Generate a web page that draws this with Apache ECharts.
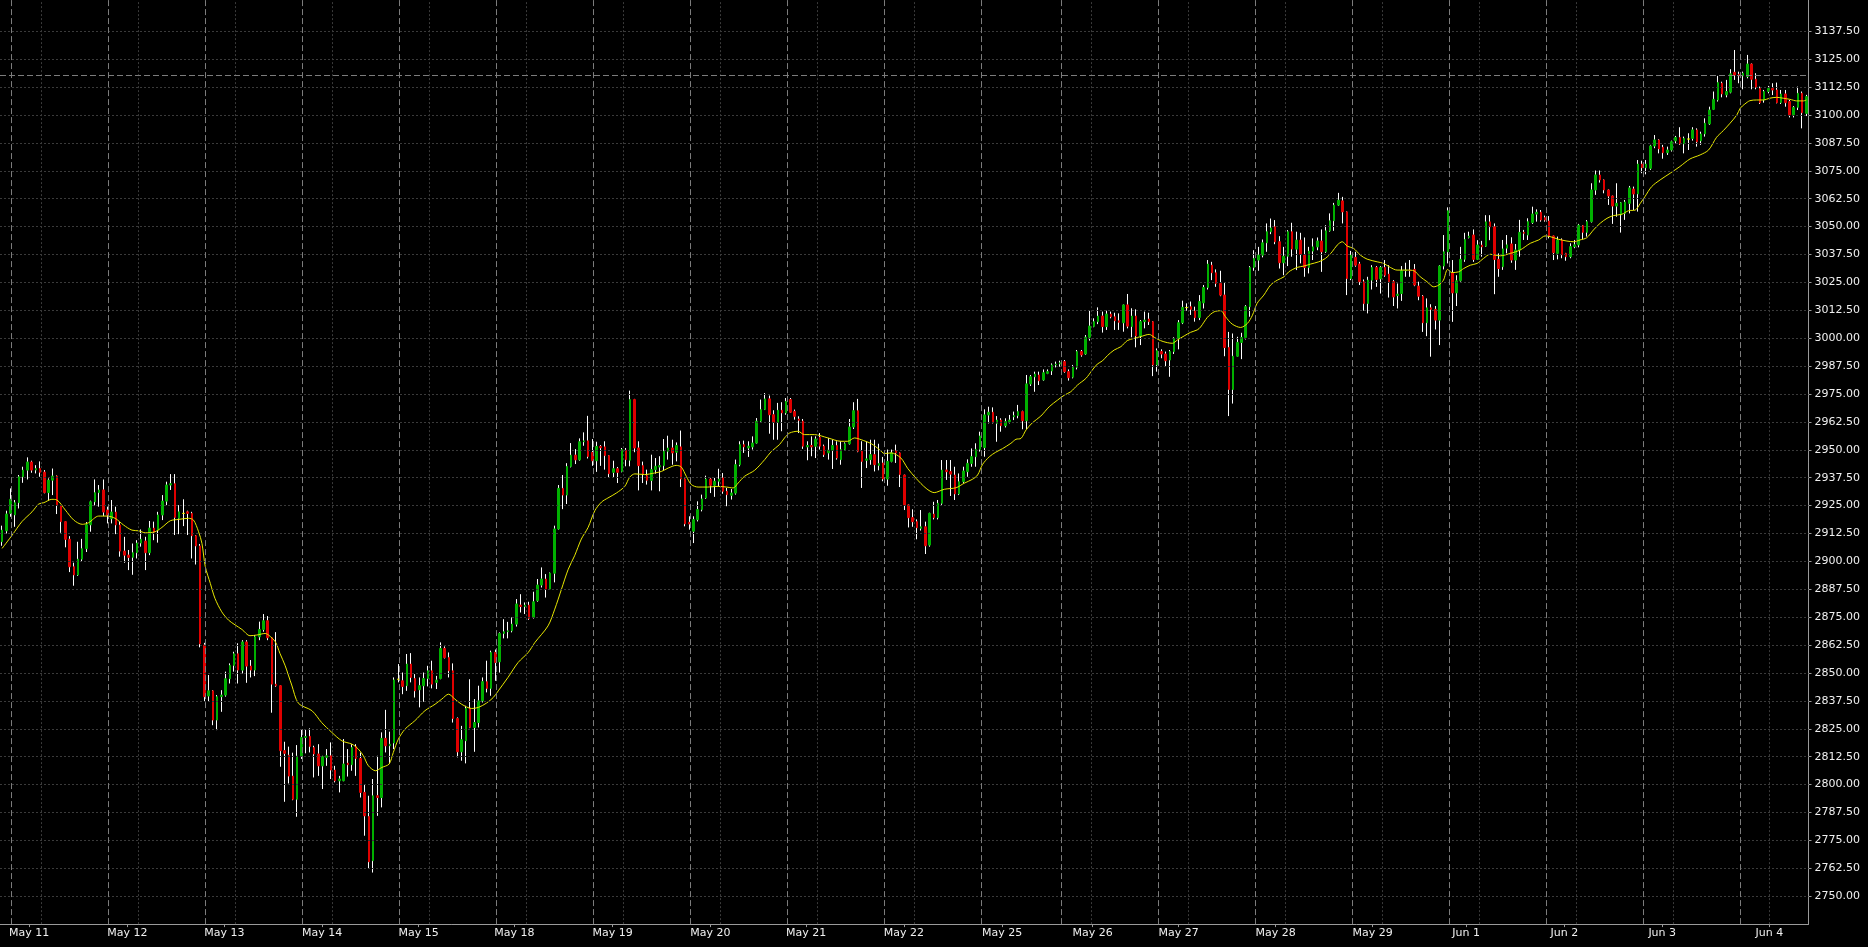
<!DOCTYPE html>
<html><head><meta charset="utf-8">
<script src="https://cdn.jsdelivr.net/npm/echarts@6/dist/echarts.min.js"></script>
<style>html,body{margin:0;padding:0;background:#000;overflow:hidden}#c{width:1868px;height:947px;}</style>
</head><body><div id="c"></div>
<script>
// ---- hourly OHLC (429 bars) ----
const opens = [
2908.8,2913.7,2921.5,2920.8,2926.3,2937.9,2940.9,2944.5,2940.9,2941.6,
2940.0,2930.8,2936.4,2938.2,2924.8,2917.8,2909.9,2897.6,2893.9,2901.0,
2905.7,2916.4,2926.7,2930.8,2932.0,2923.0,2919.1,2922.1,2916.3,2904.6,
2902.8,2901.8,2903.9,2908.2,2909.1,2903.9,2914.9,2914.0,2920.8,2927.0,
2934.2,2934.8,2919.3,2921.5,2922.2,2921.5,2911.5,2906.9,2862.5,2839.7,
2842.0,2828.9,2839.4,2840.1,2847.4,2853.4,2858.6,2851.3,2863.9,2853.1,
2851.3,2866.2,2869.5,2873.4,2865.8,2845.0,2844.3,2815.2,2813.2,2803.8,
2793.4,2812.8,2821.1,2821.6,2816.6,2813.7,2808.4,2812.2,2812.9,2806.5,
2801.7,2801.7,2809.6,2808.9,2817.1,2811.7,2796.5,2785.7,2765.9,2795.0,
2794.2,2820.7,2817.4,2818.6,2847.2,2846.5,2844.3,2854.0,2847.5,2842.5,
2844.3,2847.5,2851.0,2845.8,2847.5,2861.0,2856.9,2851.0,2829.6,2814.7,
2819.6,2834.1,2825.6,2827.8,2837.5,2846.1,2843.1,2859.2,2855.0,2867.7,
2868.5,2868.9,2871.9,2880.4,2879.8,2880.4,2874.9,2882.4,2889.4,2892.1,
2887.6,2894.7,2914.5,2932.7,2929.7,2942.5,2947.6,2945.5,2953.6,2954.0,
2948.8,2945.1,2951.5,2951.3,2947.4,2939.9,2941.5,2940.3,2949.8,2945.3,
2972.5,2950.8,2942.9,2938.4,2936.3,2941.1,2942.3,2942.9,2949.3,2950.8,
2948.9,2951.3,2936.9,2917.5,2913.5,2918.7,2923.2,2928.4,2936.9,2934.1,
2935.9,2937.4,2931.4,2929.6,2930.6,2943.3,2952.3,2950.8,2951.3,2953.0,
2962.8,2968.0,2972.8,2965.7,2962.3,2967.7,2966.5,2972.5,2967.2,2963.8,
2962.8,2951.3,2951.9,2951.6,2955.6,2951.6,2948.6,2949.8,2951.9,2945.6,
2950.1,2952.7,2960.2,2967.5,2949.3,2945.3,2945.6,2947.8,2943.0,2944.1,
2936.9,2944.8,2949.6,2948.6,2938.7,2925.3,2919.6,2917.8,2914.8,2915.5,
2907.3,2921.2,2919.6,2926.0,2940.9,2940.2,2938.7,2930.2,2935.7,2940.2,
2943.9,2946.9,2950.2,2951.0,2965.6,2966.8,2961.8,2963.3,2960.8,2962.6,
2964.8,2965.3,2967.1,2963.0,2979.5,2982.7,2983.5,2981.3,2984.2,2985.3,
2988.0,2988.4,2989.5,2985.0,2982.5,2986.9,2994.0,2992.9,3000.4,3005.2,
3007.4,3009.9,3005.2,3010.8,3009.6,3007.8,3006.9,3014.9,3005.2,3009.9,
3001.0,3007.4,3008.6,3007.4,2988.0,2994.0,2992.9,2990.2,2994.0,2999.9,
3006.9,3013.7,3014.1,3012.2,3009.3,3015.8,3022.7,3032.7,3029.3,3024.5,
3019.3,2995.8,2977.0,2991.9,2998.1,3000.3,3014.1,3031.7,3035.0,3037.2,
3042.7,3047.7,3049.9,3043.2,3033.8,3036.7,3047.7,3039.9,3043.9,3037.2,
3031.7,3039.0,3040.9,3043.5,3038.7,3048.1,3052.6,3059.6,3061.5,3056.6,
3026.7,3036.2,3033.2,3025.3,3015.5,3026.0,3031.7,3026.6,3031.7,3028.7,
3025.3,3019.1,3020.0,3030.2,3030.5,3030.8,3023.3,3018.8,3006.9,3013.6,
3012.9,3008.1,3032.3,3038.7,3029.3,3020.3,3025.7,3035.3,3045.1,3046.2,
3035.3,3041.7,3041.2,3052.1,3049.9,3035.3,3032.0,3040.3,3042.2,3035.0,
3039.5,3047.4,3046.2,3051.8,3055.6,3056.4,3054.0,3052.5,3045.8,3038.0,
3044.0,3038.0,3036.5,3041.0,3041.8,3050.4,3047.4,3052.2,3066.4,3073.1,
3070.9,3066.4,3063.7,3059.2,3055.2,3055.9,3060.4,3066.8,3064.6,3078.0,
3076.4,3076.1,3086.1,3088.8,3085.5,3083.1,3084.3,3088.4,3089.9,3087.0,
3089.2,3089.5,3093.3,3088.4,3091.5,3096.0,3102.5,3106.7,3114.2,3109.0,
3110.2,3119.1,3118.2,3117.5,3117.2,3122.8,3116.0,3111.9,3106.7,3110.5,
3111.9,3111.2,3105.5,3109.4,3106.0,3100.0,3103.4,3109.7,3100.7];
const closes = [
2914.0,2921.2,2927.8,2926.3,2937.9,2940.9,2944.5,2940.9,2941.6,2939.9,
2930.8,2936.4,2938.2,2925.1,2917.8,2909.9,2897.6,2893.9,2901.0,2905.7,
2916.4,2926.7,2930.8,2932.0,2922.1,2920.8,2922.1,2916.3,2904.6,2902.8,
2901.8,2903.9,2908.2,2909.9,2903.9,2914.9,2913.1,2920.8,2927.0,2934.2,
2934.8,2919.7,2922.2,2921.5,2921.5,2911.5,2906.9,2863.0,2839.4,2842.0,
2828.9,2839.4,2840.1,2847.4,2853.4,2858.6,2851.3,2863.9,2853.1,2851.3,
2866.2,2869.5,2873.4,2865.8,2845.0,2844.3,2815.2,2814.0,2803.8,2793.4,
2812.8,2821.1,2821.5,2817.1,2813.7,2808.4,2812.5,2812.9,2806.5,2801.7,
2802.5,2809.2,2808.9,2816.6,2811.7,2796.5,2786.0,2765.4,2795.0,2794.2,
2820.7,2817.4,2818.1,2846.9,2847.2,2844.0,2854.0,2848.0,2842.0,2844.3,
2847.5,2851.0,2845.0,2846.8,2861.0,2856.9,2851.0,2829.6,2814.7,2820.1,
2834.1,2825.6,2827.8,2837.5,2846.1,2843.1,2859.2,2854.7,2867.7,2868.5,
2868.9,2871.9,2880.9,2879.8,2880.4,2874.4,2881.9,2889.4,2892.1,2887.6,
2894.7,2914.5,2932.7,2929.7,2942.5,2947.6,2945.5,2953.6,2954.0,2947.0,
2945.1,2951.5,2950.9,2947.4,2939.3,2941.5,2939.9,2950.1,2945.6,2972.5,
2950.8,2942.9,2939.3,2936.3,2941.1,2942.6,2942.9,2949.3,2950.8,2948.6,
2951.9,2936.9,2916.8,2916.8,2918.7,2923.2,2928.0,2936.9,2934.1,2935.9,
2936.9,2931.4,2929.9,2930.6,2943.3,2952.3,2951.3,2951.6,2953.0,2962.8,
2968.0,2972.8,2965.7,2962.3,2967.7,2966.5,2971.7,2966.8,2965.0,2963.2,
2951.6,2951.9,2951.3,2954.8,2951.6,2947.8,2949.8,2951.9,2946.3,2950.1,
2952.7,2960.2,2967.5,2949.3,2944.8,2945.9,2947.8,2943.3,2943.8,2936.9,
2944.8,2948.6,2948.6,2938.9,2925.3,2919.6,2917.8,2915.1,2915.5,2907.0,
2921.5,2919.6,2926.0,2940.9,2940.2,2939.1,2930.2,2935.7,2940.5,2943.9,
2946.9,2950.2,2956.2,2965.6,2966.8,2962.1,2963.3,2960.8,2962.6,2963.3,
2965.3,2967.1,2963.0,2979.5,2982.7,2983.9,2980.9,2984.5,2985.0,2988.0,
2988.4,2989.0,2985.0,2982.3,2986.9,2994.0,2992.5,3000.4,3005.4,3007.4,
3009.9,3005.2,3010.8,3009.6,3007.8,3007.1,3014.9,3005.4,3009.9,3001.0,
3007.4,3008.1,3007.4,2988.0,2994.4,2992.9,2989.9,2994.0,2999.9,3006.9,
3013.8,3013.7,3012.9,3009.2,3016.4,3022.7,3033.2,3029.3,3024.5,3019.3,
2995.8,2977.0,2991.9,2998.1,3000.3,3014.1,3031.7,3035.7,3037.2,3042.7,
3047.7,3049.4,3043.2,3033.8,3036.7,3047.7,3039.9,3043.9,3037.6,3031.7,
3039.0,3040.9,3043.5,3038.7,3048.1,3052.6,3059.6,3061.8,3056.6,3026.7,
3037.2,3032.7,3025.3,3015.5,3026.0,3031.7,3026.3,3031.7,3028.2,3025.3,
3018.5,3019.7,3030.2,3030.5,3030.2,3023.8,3018.8,3006.9,3013.6,3012.9,
3008.1,3032.3,3038.7,3057.1,3020.3,3025.7,3035.3,3044.2,3045.7,3035.3,
3041.7,3040.9,3052.1,3049.9,3035.3,3031.2,3040.0,3041.8,3035.0,3039.5,
3047.4,3047.0,3052.2,3055.6,3056.4,3052.9,3052.9,3045.8,3038.3,3044.0,
3037.3,3036.5,3041.0,3041.8,3050.6,3047.4,3052.2,3066.4,3073.1,3070.9,
3066.4,3063.7,3059.2,3060.4,3060.7,3061.0,3067.3,3064.6,3078.0,3076.4,
3078.0,3086.1,3088.8,3084.8,3083.1,3084.3,3088.0,3089.9,3087.0,3089.5,
3089.2,3093.3,3088.0,3091.5,3096.3,3102.2,3107.0,3114.5,3109.4,3110.5,
3118.4,3117.9,3117.5,3118.7,3122.8,3116.0,3112.4,3105.5,3110.5,3111.9,
3111.2,3105.5,3109.4,3105.5,3100.0,3103.4,3109.7,3101.0,3108.2];
const lows = [
2907.0,2912.5,2920.0,2915.5,2923.7,2935.2,2936.7,2939.7,2939.4,2937.9,
2930.5,2927.2,2929.7,2921.2,2912.8,2906.3,2895.2,2889.1,2893.5,2899.8,
2904.2,2913.3,2925.1,2924.5,2920.3,2917.0,2917.0,2912.2,2902.1,2899.4,
2896.1,2894.0,2901.3,2906.6,2896.1,2902.8,2909.5,2908.4,2918.5,2925.2,
2932.0,2911.8,2912.2,2915.8,2911.8,2901.3,2898.6,2861.5,2837.0,2837.1,
2826.6,2824.4,2832.6,2839.4,2845.3,2850.6,2845.3,2849.8,2845.6,2848.0,
2848.6,2864.7,2868.5,2864.7,2832.2,2843.8,2808.0,2792.3,2800.5,2793.0,
2785.6,2811.5,2814.0,2814.4,2803.2,2803.9,2798.0,2808.4,2802.5,2801.0,
2796.5,2801.5,2803.6,2806.2,2803.9,2794.2,2777.1,2762.4,2760.6,2786.0,
2789.8,2814.4,2809.2,2815.9,2845.8,2840.5,2842.0,2845.8,2839.0,2834.6,
2837.1,2844.0,2843.1,2842.8,2847.2,2856.5,2848.0,2827.8,2812.2,2810.7,
2809.5,2825.3,2814.7,2825.6,2836.8,2841.3,2839.8,2846.5,2850.2,2865.5,
2865.5,2868.2,2870.8,2877.1,2876.4,2873.8,2874.4,2881.9,2888.3,2883.8,
2887.3,2890.6,2914.2,2923.4,2925.7,2942.1,2943.6,2945.1,2951.8,2946.1,
2942.8,2940.1,2942.8,2941.1,2937.8,2937.4,2935.1,2939.9,2942.6,2942.6,
2948.9,2931.8,2935.1,2934.4,2931.8,2939.3,2931.4,2940.8,2945.6,2943.3,
2944.8,2933.3,2915.7,2914.2,2908.2,2917.9,2922.4,2928.0,2930.6,2928.9,
2933.6,2930.3,2924.7,2927.7,2929.9,2942.6,2948.6,2946.8,2950.1,2952.7,
2962.0,2967.8,2957.2,2954.5,2954.5,2958.3,2965.7,2966.5,2963.5,2957.5,
2950.4,2945.3,2947.1,2946.3,2950.1,2946.8,2945.6,2941.4,2945.6,2943.3,
2949.8,2952.3,2959.3,2948.9,2932.9,2941.8,2943.3,2940.3,2940.8,2935.9,
2933.9,2944.4,2944.1,2933.3,2923.0,2915.2,2915.5,2909.9,2913.8,2903.3,
2906.6,2918.8,2918.8,2925.3,2936.5,2929.3,2927.5,2929.7,2935.0,2937.9,
2942.4,2942.4,2949.2,2946.9,2961.8,2961.8,2953.6,2958.1,2960.0,2961.8,
2963.3,2964.1,2959.2,2959.2,2978.6,2976.0,2979.0,2980.9,2983.9,2983.5,
2986.9,2987.2,2984.5,2981.0,2982.0,2986.0,2991.7,2992.5,2998.9,3004.9,
3006.3,3002.5,3003.7,3008.9,3003.7,3003.7,3002.9,3004.4,3000.4,2995.9,
2996.9,3004.4,3005.9,2983.0,2985.0,2991.0,2987.2,2982.7,2992.9,2995.0,
3006.3,3012.3,3010.4,3007.4,3008.1,3013.3,3021.8,3026.0,3023.0,3018.8,
2991.9,2965.1,2970.7,2991.7,2990.6,2999.4,3009.6,3030.2,3030.2,3036.2,
3038.7,3046.6,3042.1,3031.2,3028.2,3032.3,3036.5,3030.5,3033.5,3027.5,
3029.0,3035.0,3039.4,3029.7,3038.2,3047.7,3048.1,3059.2,3051.4,3019.3,
3026.0,3032.0,3023.8,3012.3,3011.1,3021.8,3023.0,3020.0,3027.5,3018.2,
3014.4,3013.3,3016.7,3027.5,3027.5,3023.3,3017.0,3002.8,3000.9,2991.7,
3003.9,2996.9,3030.8,3033.5,3007.3,3014.4,3025.3,3034.2,3044.7,3034.2,
3035.0,3036.5,3040.9,3043.9,3019.7,3027.5,3030.6,3038.0,3033.8,3030.6,
3036.5,3044.0,3044.0,3051.2,3052.2,3052.2,3052.2,3044.7,3035.0,3035.3,
3035.8,3034.7,3035.8,3040.3,3040.7,3044.3,3045.5,3051.8,3064.2,3069.7,
3064.9,3059.7,3051.2,3054.4,3047.3,3053.0,3055.9,3057.4,3056.7,3073.9,
3073.4,3075.4,3085.1,3082.8,3080.4,3082.1,3083.6,3087.3,3086.6,3082.8,
3084.3,3088.5,3085.8,3086.6,3090.3,3095.5,3102.2,3106.0,3107.9,3107.9,
3109.7,3115.7,3114.2,3111.5,3116.4,3111.5,3111.5,3104.9,3105.5,3109.7,
3108.9,3105.2,3104.9,3103.7,3098.9,3098.9,3102.2,3094.0,3099.5];
const highs = [
2916.0,2922.7,2932.7,2927.5,2938.7,2942.4,2946.6,2945.1,2943.1,2944.8,
2940.9,2937.2,2941.6,2938.5,2925.0,2918.0,2911.3,2899.4,2908.8,2910.1,
2917.6,2927.2,2936.7,2934.2,2936.7,2924.5,2927.5,2924.5,2917.8,2911.0,
2905.1,2908.0,2909.5,2914.3,2911.0,2918.1,2917.8,2922.2,2929.7,2935.7,
2939.1,2939.1,2925.2,2927.8,2922.7,2922.2,2911.8,2907.8,2863.5,2849.1,
2842.3,2840.1,2842.3,2850.6,2854.3,2859.5,2863.3,2864.7,2864.7,2855.8,
2867.0,2873.0,2876.4,2875.5,2866.0,2868.3,2844.5,2819.2,2817.0,2814.3,
2817.7,2824.9,2824.9,2825.2,2817.4,2818.1,2812.9,2815.9,2818.9,2808.4,
2803.9,2820.4,2815.9,2818.1,2818.1,2814.4,2799.8,2795.0,2802.5,2812.9,
2823.4,2833.5,2823.7,2848.0,2854.0,2850.2,2858.5,2858.9,2849.5,2848.0,
2850.2,2853.2,2855.5,2848.7,2863.7,2861.9,2859.2,2854.3,2830.1,2826.3,
2835.3,2847.2,2838.3,2844.3,2848.0,2855.5,2860.0,2860.5,2868.2,2874.1,
2872.9,2874.9,2883.1,2885.3,2881.6,2881.9,2886.4,2892.1,2897.3,2894.3,
2895.0,2916.0,2934.2,2938.7,2944.0,2953.0,2950.3,2955.1,2957.8,2965.2,
2954.8,2953.6,2952.1,2953.8,2947.6,2945.1,2942.3,2950.8,2950.8,2976.5,
2972.8,2953.8,2944.7,2941.1,2947.8,2946.3,2947.1,2954.8,2956.3,2954.5,
2953.3,2958.6,2937.1,2920.2,2920.2,2926.9,2929.9,2938.4,2937.4,2937.4,
2941.5,2939.6,2932.9,2932.4,2945.6,2953.8,2954.1,2953.8,2956.0,2964.2,
2972.5,2975.4,2974.3,2967.7,2971.0,2971.3,2973.2,2973.2,2968.0,2965.0,
2963.8,2953.8,2956.0,2956.0,2957.5,2952.3,2955.3,2954.5,2953.8,2953.8,
2953.3,2963.8,2971.3,2972.8,2953.8,2953.8,2954.5,2954.5,2952.7,2946.8,
2950.1,2950.1,2952.3,2948.8,2938.9,2925.5,2923.3,2918.8,2923.0,2917.8,
2921.8,2926.7,2927.5,2945.4,2945.4,2945.4,2942.4,2939.4,2942.4,2945.7,
2950.6,2952.9,2958.1,2968.1,2969.3,2969.0,2965.1,2964.1,2964.1,2965.6,
2967.1,2970.1,2967.5,2983.5,2983.5,2985.0,2985.0,2986.0,2986.0,2988.7,
2989.5,2989.9,2990.2,2986.0,2988.0,2994.7,2994.7,3001.4,3012.6,3008.9,
3013.8,3011.9,3012.3,3011.9,3011.4,3011.1,3015.1,3019.8,3013.4,3012.9,
3008.1,3011.9,3011.4,3007.6,2995.4,2995.0,2994.0,2994.7,3000.4,3008.1,
3016.8,3015.6,3016.4,3014.1,3019.3,3023.8,3035.0,3034.2,3030.8,3030.2,
3024.8,3002.8,3002.1,3000.6,3002.4,3014.8,3032.3,3039.4,3040.9,3044.2,
3051.4,3053.6,3052.9,3045.7,3040.9,3048.4,3051.7,3047.7,3047.2,3045.1,
3040.9,3044.7,3045.1,3048.7,3050.6,3055.9,3060.6,3065.1,3063.3,3056.8,
3039.1,3038.7,3034.2,3026.3,3027.5,3032.7,3032.3,3032.3,3035.0,3032.7,
3026.0,3024.5,3032.3,3033.8,3035.0,3033.2,3025.3,3019.3,3017.8,3015.2,
3014.4,3032.7,3046.2,3058.6,3035.0,3028.2,3040.9,3047.2,3047.7,3048.7,
3043.9,3043.6,3055.1,3055.1,3051.4,3038.0,3044.0,3046.2,3045.2,3042.2,
3053.0,3048.5,3053.7,3058.9,3057.7,3057.4,3054.9,3054.7,3046.0,3045.5,
3044.7,3038.2,3042.5,3044.0,3051.2,3050.7,3052.9,3069.4,3075.1,3075.1,
3071.1,3066.7,3063.9,3069.4,3061.0,3061.9,3068.2,3067.9,3079.8,3079.5,
3079.8,3086.6,3091.0,3089.1,3086.6,3085.8,3088.5,3090.6,3094.5,3090.3,
3091.8,3094.5,3094.0,3092.5,3098.5,3103.7,3110.5,3117.5,3114.9,3115.7,
3120.5,3129.1,3119.4,3119.4,3126.9,3123.1,3118.7,3112.7,3111.2,3113.0,
3114.2,3114.5,3111.2,3111.2,3106.7,3104.0,3112.7,3110.5,3109.0];

// ---- moving average (yellow) as [bar position, value] ----
const maPoints = [
[0,2905.8],[2.4,2911.8],[4.7,2917.8],[7.1,2922.2],[8.7,2925.7],[9.9,2926.3],[11.8,2927.8],[13,2927.5],[15,2923.0],[17,2918.5],[19,2916.6],[20.5,2917.3],[22.9,2920.3],[24.9,2920.3],[26.8,2919.3],[28.8,2916.3],[30.8,2914.0],[32.4,2913.7],[34,2912.8],[36.3,2913.3],[37.9,2915.2],[39.9,2918.2],[41.9,2918.8],[44.2,2919.3],[45.4,2918.5],[46.6,2913.3],[47.4,2908.1],[48.2,2897.6],[49.4,2890.1],[50.5,2883.4],[52.1,2877.4],[53.7,2873.7],[55.3,2871.5],[56.9,2869.5],[58.8,2866.7],[60.4,2867.0],[62.4,2867.7],[63.2,2867.0],[64.8,2864.0],[65.9,2858.8],[67.1,2853.5],[68.7,2844.6],[70.3,2836.4],
[73.5,2833.1],[75.8,2827.8],[78.2,2823.4],[80.6,2819.6],[83.0,2818.1],[84.5,2815.9],[85.7,2812.9],[86.9,2808.4],[88.6,2806.2],[90.1,2807.7],[91.8,2809.2],[92.8,2814.4],[94.0,2820.4],[95.6,2824.9],[97.9,2828.6],[100.3,2833.1],[102.7,2836.0],[104.3,2838.3],[105.9,2840.5],[107.4,2838.3],[109,2836.0],[111.4,2834.1],[113.0,2834.6],[114.9,2836.5],[116.5,2839.0],[117.7,2842.0],[120.0,2848.0],[122.4,2854.7],[124.8,2859.2],[126.4,2863.7],[129.5,2871.1],[131.1,2878.6],[132.7,2887.6],[134.3,2896.5],[135.8,2902.5],[137.4,2910.0],[139.0,2915.2],[140.6,2922.7],[142.2,2926.6],
[143.7,2928.4],[145.7,2930.6],[147.7,2933.6],[148.9,2937.8],[150.1,2939.2],[152.4,2938.9],[154.8,2939.6],[156.4,2940.3],[158.0,2941.8],[159.9,2943.0],[161.1,2942.3],[162.3,2938.1],[163.5,2934.4],[165.1,2933.3],[167.4,2933.3],[169.8,2933.6],[171.8,2933.3],[173.4,2932.9],[174.6,2935.1],[176.1,2938.1],[178.5,2940.8],[180.9,2945.6],[182.5,2949.3],[184.4,2952.3],[185.6,2955.3],[186.8,2957.5],[188.8,2958.3],[190.3,2956.8],[192.7,2956.8],[195.9,2955.3],[199.0,2953.8],[200.6,2953.8],[202.2,2955.3],[203.8,2954.5],[206.2,2952.7],[208.1,2950.1],[209.3,2948.3],[210.9,2948.6],[213.2,2946.3],
[214.8,2941.7],[216.8,2937.2],[219.2,2932.7],[221.1,2930.8],[223.5,2932.3],[226.3,2933.0],[228.2,2935.0],[230.2,2936.8],[231.4,2938.7],[232.6,2943.5],[234.2,2946.9],[235.7,2948.9],[237.3,2950.5],[239.3,2952.9],[240.5,2954.7],[241.7,2955.1],[242.9,2958.9],[244.4,2962.1],[246.4,2965.1],[248.4,2969.3],[250.4,2972.3],[252.0,2974.5],[253.5,2976.0],[255.1,2979.0],[257.1,2982.0],[258.6,2985.7],[259.8,2988.4],[261.0,2989.8],[262.2,2992.2],[263.8,2994.7],[265.4,2996.2],[266.9,2998.9],[268.5,2999.9],[270.1,3000.7],[272.1,3001.7],[273.3,3000.4],[274.8,2998.9],[276.4,2998.0],[277.6,2997.7],[278.8,2999.2],[280.4,3001.0],[281.9,3002.6],[283.5,3003.7],[284.3,3005.0],
[285.9,3009.3],[287.5,3011.8],[289.1,3012.3],[290.2,3009.6],[291.8,3006.3],[293.8,3004.8],[295.4,3006.6],[296.6,3010.3],[297.7,3015.6],[299.3,3019.3],[300.9,3023.8],[302.5,3026.0],[304.1,3027.5],[305.2,3029.7],[307.2,3031.7],[308.8,3032.3],[310.4,3033.2],[312.3,3034.2],[313.9,3035.7],[315.5,3038.7],[316.7,3041.7],[317.9,3043.2],[319.1,3041.2],[320.6,3040.2],[322.2,3037.2],[323.8,3035.4],[326.2,3034.2],[327.7,3033.5],[329.3,3031.7],[330.9,3030.5],[333.3,3030.5],[334.9,3030.2],[336.4,3027.5],[338.0,3025.3],[339.6,3023.0],[340.8,3023.8],[341.9,3026.0],[342.9,3030.8],[343.9,3029.4],[345.5,3029.7],[346.7,3031.2],[348.3,3032.7],[349.9,3033.5],[351.4,3035.7],[353.0,3037.6],[354.2,3037.2],[355.4,3036.9],
[357.8,3038.0],[360.1,3039.5],[362.5,3042.5],[364.5,3044.0],[366.0,3045.8],[367.2,3045.5],[369.2,3044.3],[371.2,3043.5],[372.8,3043.2],[374.3,3044.0],[375.9,3045.0],[377.5,3048.5],[379.1,3051.5],[380.7,3053.7],[382.2,3054.9],[384.2,3055.5],[385.8,3057.1],[387.4,3057.4],[388.6,3060.4],[389.7,3063.4],[391.3,3067.9],[393.3,3070.9],[395.7,3073.9],[398.0,3076.9],[400.4,3080.3],[402.8,3082.1],[404.8,3084.3],[406.7,3090.0],[408.3,3093.0],[409.9,3096.3],[411.5,3100.0],[412.3,3103.0],[413.4,3104.9],[414.6,3106.4],[416.2,3106.7],[417.8,3106.7],[419.3,3107.5],[420.9,3107.9],[422.5,3107.5],[424.1,3107.0],[425.7,3106.3],[427.3,3106.3],[428,3106.7]];

// ---- time axis labels (bar positions), price ticks and day separators ----
const tickLabels = ['May 11','May 12','May 13','May 14','May 15','May 18','May 19','May 20','May 21','May 22','May 25','May 26','May 27','May 28','May 29','Jun 1','Jun 2','Jun 3','Jun 4'];
const tickPos = [6.4,29.7,52.7,75.9,98.8,121.5,144.8,168.0,190.7,213.9,237.2,258.7,279.1,302.1,325.1,347.3,370.6,393.8,419.2];
const priceTickFirst = 2750, priceTickLast = 3137.5, priceTickStep = 12.5;
const daySeparators = [2.25,25.25,48.25,71.25,94.25,117.25,140.25,163.25,186.25,209.25,232.25,251.25,274.25,297.25,320.25,343.25,366.25,389.25,412.25];
const gridVerticals = [9.3,32.3,55.3,78.3,101.3,124.3,147.3,170.3,193.3,216.3,258.3,281.3,304.3,327.3,350.3,373.3,396.3,419.3];
const priceLine = 3117.9;
const yMin = 2737.5, yMax = 3151.5;

const UP = '#00b000', DOWN = '#e00000', DOJI = '#ffff00', MA = '#e8e800';
const N = Math.min(opens.length, closes.length, lows.length, highs.length);
const categories = Array.from({length: N}, (_, i) => String(i));
const wickData = [], bodyData = [];
for (let i = 0; i < N; i++) {
  const o = opens[i], c = closes[i];
  wickData.push([o, c, lows[i], highs[i]]);
  const item = {value: [o, c, Math.min(o, c), Math.max(o, c)]};
  if (o === c) item.itemStyle = {color: DOJI, color0: DOJI, borderColor: DOJI, borderColor0: DOJI};
  bodyData.push(item);
}
const priceTicks = [];
for (let v = priceTickFirst; v <= priceTickLast + 1e-9; v += priceTickStep) priceTicks.push(+v.toFixed(2));

const gridStyle = {type: [2, 2], color: '#3a3a3a', width: 1};
const sepStyle = {type: [6, 3], color: '#7c7c7c', width: 1};
const refLines = [];
priceTicks.forEach(v => refLines.push({yAxis: v, lineStyle: gridStyle}));
gridVerticals.forEach(v => refLines.push({xAxis: v, lineStyle: gridStyle}));
daySeparators.forEach(v => refLines.push({xAxis: v, lineStyle: sepStyle}));
refLines.push({yAxis: priceLine, lineStyle: sepStyle});

const chart = echarts.init(document.getElementById('c'), null, {renderer: 'canvas'});
const labelFont = {color: '#f0f0f0', fontFamily: 'DejaVu Sans', fontSize: 11};
chart.setOption({
  backgroundColor: '#000',
  animation: false,
  grid: {left: -2, top: 0, width: 1810.5, height: 924.1, containLabel: false},
  xAxis: [
    {type: 'category', data: categories, boundaryGap: true, position: 'bottom',
     axisLine: {show: true, onZero: false, lineStyle: {color: '#9a9a9a', width: 1}},
     axisTick: {show: false}, axisLabel: {show: false}, splitLine: {show: false}},
    {type: 'value', min: -0.5, max: N - 0.5, position: 'bottom',
     axisLine: {show: false, onZero: false},
     axisTick: {show: true, length: 3, customValues: tickPos, lineStyle: {color: '#9a9a9a'}},
     axisLabel: Object.assign({show: true, margin: 4, customValues: tickPos,
       formatter: v => { const j = tickPos.findIndex(p => Math.abs(p - v) < 1e-6); return j >= 0 ? tickLabels[j] : ''; }}, labelFont),
     splitLine: {show: false}}
  ],
  yAxis: {type: 'value', position: 'right', min: yMin, max: yMax,
    axisLine: {show: true, onZero: false, lineStyle: {color: '#9a9a9a', width: 1}},
    axisTick: {show: true, length: 3, customValues: priceTicks, lineStyle: {color: '#9a9a9a'}},
    axisLabel: Object.assign({margin: 6, customValues: priceTicks,
      formatter: v => (v >= priceTickFirst - 1e-6 && v <= priceTickLast + 1e-6) ? v.toFixed(2) : ''}, labelFont),
    splitLine: {show: false}},
  series: [
    {type: 'line', xAxisIndex: 1, data: [], silent: true, z: 1,
     markLine: {silent: true, symbol: ['none', 'none'], label: {show: false}, animation: false, data: refLines}},
    {type: 'candlestick', xAxisIndex: 0, data: wickData, barWidth: 1, silent: true, z: 2,
     itemStyle: {color: '#ffffff', color0: '#ffffff', borderColor: '#ffffff', borderColor0: '#ffffff', borderWidth: 1}},
    {type: 'candlestick', xAxisIndex: 0, data: bodyData, barWidth: 2, silent: true, z: 3,
     itemStyle: {color: UP, color0: DOWN, borderColor: UP, borderColor0: DOWN, borderWidth: 1}},
    {type: 'line', xAxisIndex: 1, data: maPoints, showSymbol: false, symbol: 'none', smooth: 0.3, z: 4,
     lineStyle: {color: MA, width: 1}}
  ]
});
</script></body></html>
